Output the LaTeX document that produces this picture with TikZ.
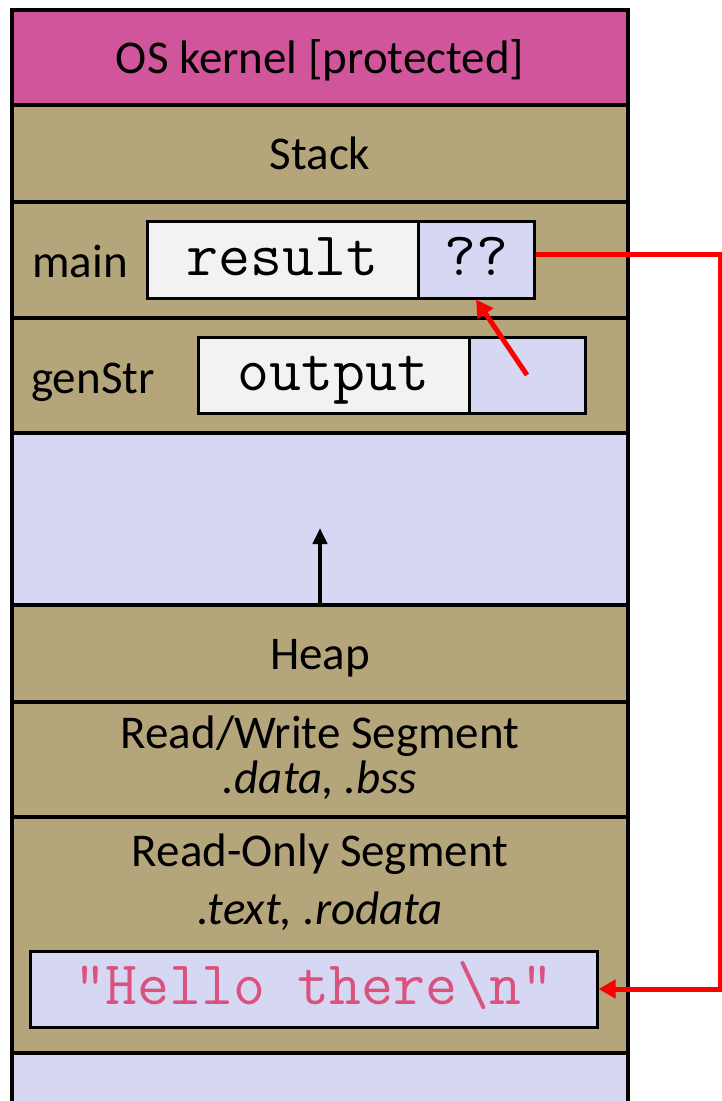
\documentclass[tikz,border=0pt]{standalone}
\usepackage{fontspec}
\setmainfont{Carlito}
\usetikzlibrary{arrows.meta}
\definecolor{kernelpink}{RGB}{208,85,155}
\definecolor{segtan}{RGB}{181,165,122}
\definecolor{freelav}{RGB}{214,215,243}
\definecolor{cellgray}{RGB}{242,242,242}
\definecolor{strpink}{RGB}{218,82,125}

\begin{document}
\begin{tikzpicture}[x=1pt, y=-1pt,
  band/.style={draw, line width=4pt, minimum width=616pt, inner sep=0pt,
    text height=31pt, text depth=0pt, font=\fontsize{47}{56}\selectfont},
  cell/.style={draw, line width=3pt, minimum height=77pt, inner sep=0pt,
    text height=31pt, text depth=0pt, font=\ttfamily\fontsize{62}{70}\selectfont},
  lbl/.style={inner sep=0pt, text height=31pt, text depth=0pt,
    font=\fontsize{47}{56}\selectfont},
  seg/.style={inner sep=0pt, anchor=base, font=\fontsize{47}{56}\selectfont},
  ptr/.style={draw=red, line width=5pt, -{Triangle[length=17pt,width=18pt]}}]
  \useasboundingbox (0,0) rectangle (722,1101);

  \node[band, fill=kernelpink, minimum height=95pt] (kernel) at (320,57.5) {OS kernel [protected]};
  \node[band, fill=segtan, minimum height=97pt] (stack) at (320,153.5) {Stack};
  \node[band, fill=segtan, minimum height=116pt] (mainfr) at (320,260) {};
  \node[band, fill=segtan, minimum height=115pt] (genfr) at (320,375.5) {};
  \node[band, fill=freelav, minimum height=172pt] (free) at (320,519) {};
  \node[band, fill=segtan, minimum height=97pt] (heap) at (320,653.5) {Heap};
  \node[band, fill=segtan, minimum height=115pt] (rw) at (320,759.5) {};
  \node[band, fill=segtan, minimum height=236pt] (ro) at (320,935) {};
  \node[band, fill=freelav, minimum height=67pt] (bottom) at (320,1086.5) {};

  \node[lbl] (mainlbl) at (80,262) {main};
  \node[cell, fill=cellgray, minimum width=271pt] (result) at (282.5,259.5) {result};
  \node[cell, fill=freelav, minimum width=116pt] (qq) at (476,259.5) {??};

  \node[lbl] (genlbl) at (93,378) {genStr};
  \node[cell, fill=cellgray, minimum width=271pt, minimum height=76pt] (output) at (333.5,375) {output};
  \node[cell, fill=freelav, minimum width=116pt, minimum height=76pt] (outptr) at (527,375) {};

  \node[seg] (rwname) at (320,748) {Read/Write Segment};
  \node[seg] (rwsecs) at (320,793) {\itshape .data, .bss};
  \node[seg] (roname) at (320,866) {Read-Only Segment};
  \node[seg] (rosecs) at (320,924) {\itshape .text, .rodata};
  \node[cell, fill=freelav, minimum width=567pt, minimum height=76pt, text=strpink] (hello) at (313.5,989) {"Hello there\textbackslash n"};

  \coordinate (grow) at (320,528);
  \draw[line width=4pt, -{Triangle[length=16pt,width=14pt]}] (free.south) -- (grow);

  \draw[ptr] (outptr.center) -- (qq.south);
  \draw[ptr] ([yshift=5pt]qq.east) -- ++(185,0) |- (hello.east);
\end{tikzpicture}
\end{document}
